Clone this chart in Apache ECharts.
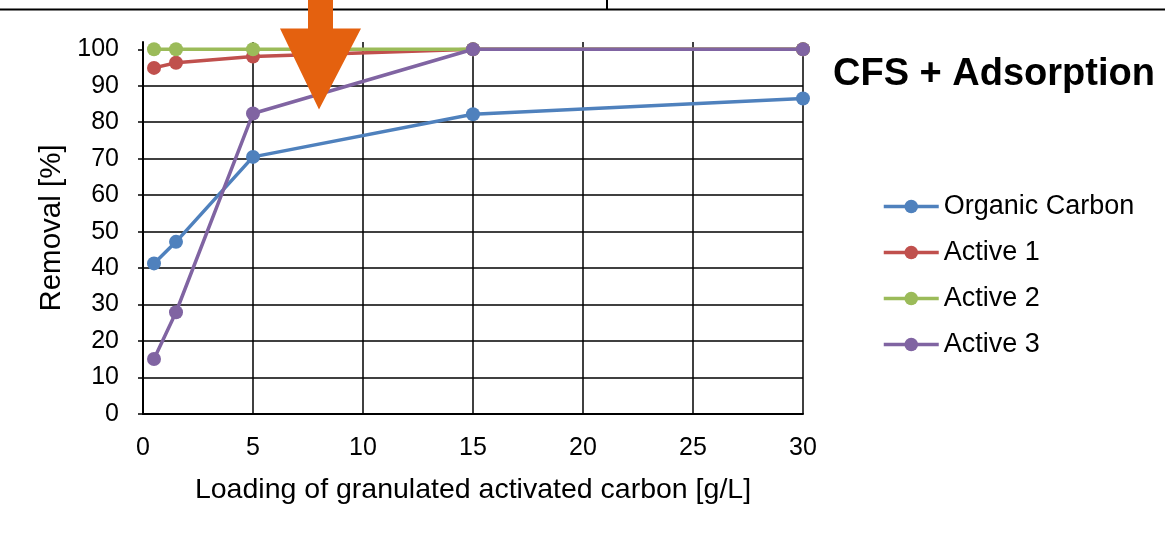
<!DOCTYPE html>
<html>
<head>
<meta charset="utf-8">
<script src="https://cdn.jsdelivr.net/npm/echarts@6/dist/echarts.min.js"></script>
<style>
  html, body { margin: 0; padding: 0; background: #fff; }
  #chart { width: 1165px; height: 534px; }
</style>
</head>
<body>
<div id="chart"></div>
<script>
// GAC loading [g/L]
const xLoading = [0.5, 1.5, 5, 15, 30]
// removal [%]
const organicCarbon = [41.3, 47.2, 70.5, 82.2, 86.5]
const active1 = [94.9, 96.3, 98.0, 100, 100]
const active2 = [100, 100, 100, 100, 100]
const active3 = [15.1, 27.9, 82.4, 100, 100]
const seriesNames = ['Organic Carbon', 'Active 1', 'Active 2', 'Active 3']
const seriesColors = ['#4F81BD', '#C0504D', '#9BBB59', '#8064A2']
const xTicks = [0, 5, 10, 15, 20, 25, 30]
const yTicks = [0, 10, 20, 30, 40, 50, 60, 70, 80, 90, 100]
// where the orange arrow points (data coords)
const arrowTip = [8, 83.5]

const FONT = '"Liberation Sans", Arial, sans-serif'
const chart = echarts.init(document.getElementById('chart'), null, { renderer: 'canvas' })

const pairs = ys => xLoading.map((x, i) => [x, ys[i]])
const allData = [organicCarbon, active1, active2, active3]

const option = {
  animation: false,
  backgroundColor: '#fff',
  textStyle: { fontFamily: FONT },
  title: {
    text: 'CFS + Adsorption',
    left: 833,
    top: 56,
    padding: 0,
    textStyle: { fontFamily: FONT, fontSize: 38, fontWeight: 'bold', color: '#000' }
  },
  legend: {
    orient: 'vertical',
    left: 882,
    top: 193,
    padding: 0,
    itemWidth: 55,
    itemHeight: 17,
    itemGap: 19,
    lineStyle: { width: 3.5 },
    textStyle: { fontFamily: FONT, fontSize: 27, color: '#000' },
    data: seriesNames
  },
  grid: { left: 143, right: 362, top: 42, bottom: 120 },
  xAxis: {
    type: 'value',
    min: xTicks[0],
    max: xTicks[xTicks.length - 1],
    interval: 5,
    name: 'Loading of granulated activated carbon [g/L]',
    nameLocation: 'middle',
    nameGap: 62,
    nameTextStyle: { fontFamily: FONT, fontSize: 28.5, color: '#000' },
    axisLine: { lineStyle: { color: '#000', width: 2 } },
    axisTick: { show: false },
    axisLabel: {
      fontFamily: FONT, fontSize: 25, color: '#000', margin: 22,
      customValues: xTicks
    },
    splitLine: { show: true, lineStyle: { color: '#000', width: 1.5 } }
  },
  yAxis: {
    type: 'value',
    min: 0,
    max: 102,
    interval: 10,
    name: 'Removal [%]',
    nameLocation: 'middle',
    nameGap: 76,
    nameTextStyle: { fontFamily: FONT, fontSize: 29.5, color: '#000' },
    axisLine: { show: true, lineStyle: { color: '#000', width: 2 } },
    axisTick: { show: true, length: 5, lineStyle: { color: '#000', width: 1.5 }, customValues: yTicks },
    axisLabel: {
      fontFamily: FONT, fontSize: 25, color: '#000', margin: 24,
      customValues: yTicks
    },
    splitLine: { show: true, showMaxLine: false, lineStyle: { color: '#000', width: 1.5 } }
  },
  series: seriesNames.map((name, i) => ({
    name,
    type: 'line',
    data: pairs(allData[i]),
    symbol: 'circle',
    symbolSize: 14,
    showAllSymbol: true,
    color: seriesColors[i],
    lineStyle: { color: seriesColors[i], width: 3.5 },
    itemStyle: { color: seriesColors[i] },
    z: 2 + i
  }))
}
chart.setOption(option)

// frame lines at the top and the orange arrow
const tip = chart.convertToPixel({ gridIndex: 0 }, arrowTip)
const arrowShape = [[-11, -120], [14, -120], [14, -81], [42, -81], [0, 0], [-39, -81], [-11, -81]]
chart.setOption({
  graphic: [
    { type: 'line', shape: { x1: 0, y1: 9.5, x2: 1165, y2: 9.5 }, style: { stroke: '#000', lineWidth: 2 }, z: 50 },
    { type: 'line', shape: { x1: 607, y1: 0, x2: 607, y2: 9.5 }, style: { stroke: '#000', lineWidth: 2 }, z: 50 },
    {
      type: 'polygon',
      shape: { points: arrowShape.map(p => [tip[0] + p[0], tip[1] + p[1]]) },
      style: { fill: '#E4610F' },
      z: 60
    }
  ]
})
</script>
</body>
</html>
